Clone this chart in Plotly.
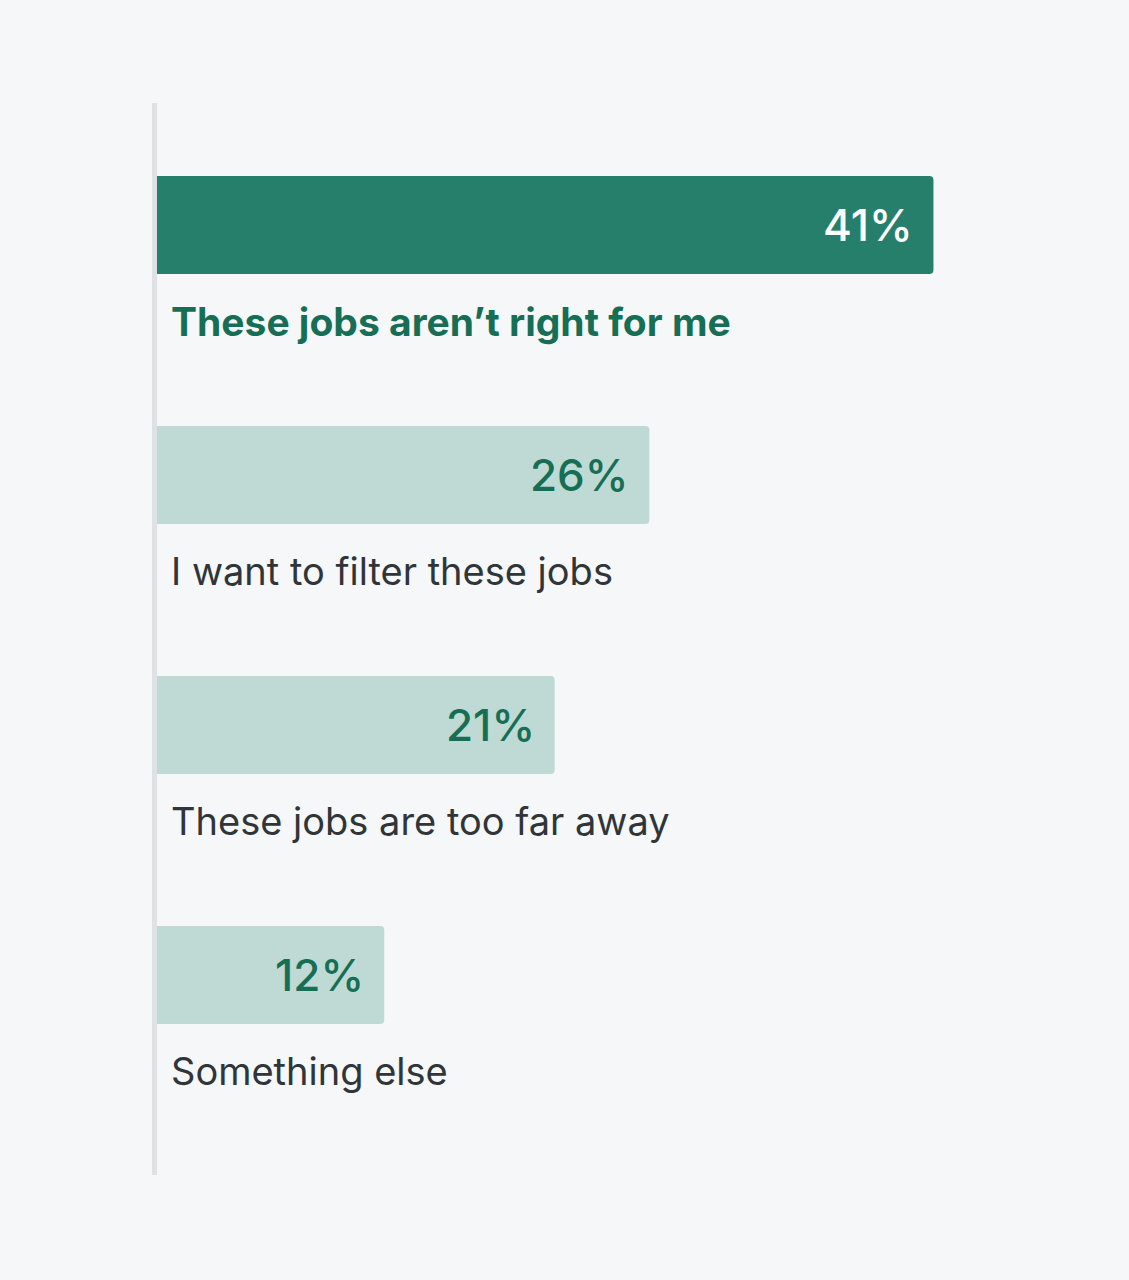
import plotly.graph_objects as go

categories = ["These jobs aren\u2019t right for me", "I want to filter these jobs",
              "These jobs are too far away", "Something else"]
values = [41, 26, 21, 12]
value_labels = ["41%", "26%", "21%", "12%"]
highlight = [True, False, False, False]

BG = "#f5f7f9"
DARK = "#267f6b"
LIGHT = "#bfdad4"
GREEN_TEXT = "#166e55"
GRAY_TEXT = "#2f3538"
FONT = "Inter"

fig = go.Figure()
fig.add_trace(go.Bar(
    x=values, y=categories, orientation="h",
    marker=dict(color=[DARK if h else LIGHT for h in highlight], line=dict(width=0)),
    width=0.392, hoverinfo="skip",
))

for cat, val, lab, h in zip(categories, values, value_labels, highlight):
    # percentage at the end of the bar
    fig.add_annotation(
        x=val, y=cat, text=lab, showarrow=False, xanchor="right", yanchor="middle",
        xshift=-18, font=dict(family=FONT, size=44, color="white" if h else GREEN_TEXT,
                              weight=500),
    )
    # category label under the bar
    fig.add_annotation(
        x=0, y=cat, text=cat, showarrow=False, xanchor="left", yanchor="middle",
        xshift=12, yshift=-96,
        font=dict(family=FONT, size=39 if h else 38, color=GREEN_TEXT if h else GRAY_TEXT,
                  weight="bold" if h else "normal"),
    )

# vertical baseline on the left (paper coords so it isn't clipped)
fig.add_shape(type="rect", xref="paper", yref="paper",
              x0=-5 / 945, x1=0, y0=0, y1=1, fillcolor="#dfe2e5", line=dict(width=0),
              layer="below")

fig.update_layout(
    width=1129, height=1280,
    paper_bgcolor=BG, plot_bgcolor=BG,
    margin=dict(l=157, r=27, t=103, b=105),
    showlegend=False,
    barcornerradius=4,
    xaxis=dict(range=[0, 49.9], visible=False, fixedrange=True),
    yaxis=dict(range=[3.8, -0.488], visible=False, fixedrange=True,
               categoryorder="array", categoryarray=categories),
)

fig.write_html("out.html", config={"displayModeBar": False},
               post_script="document.body.style.margin='0';")
